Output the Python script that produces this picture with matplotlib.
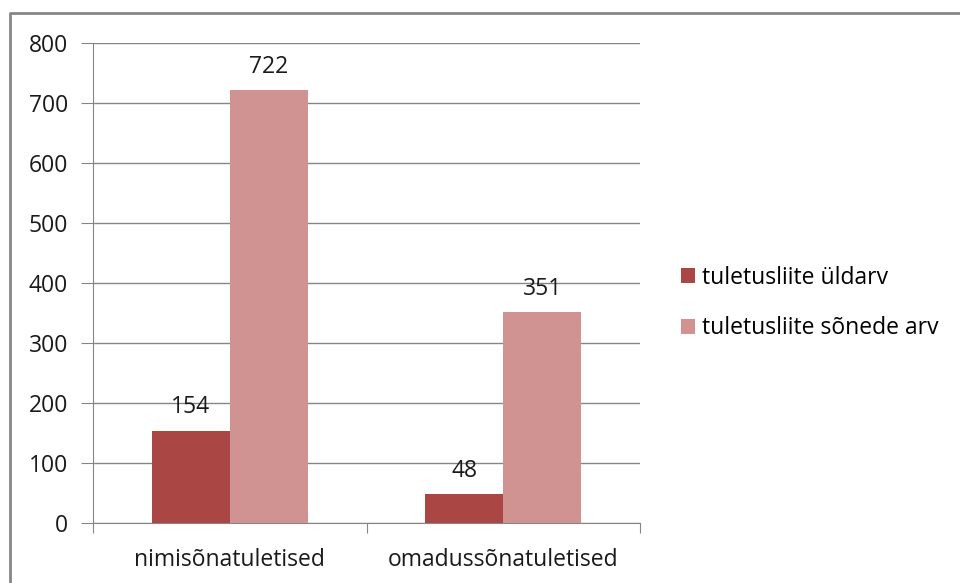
import matplotlib.pyplot as plt
import numpy as np
from matplotlib.lines import Line2D

categories = ["nimisõnatuletised", "omadussõnatuletised"]
series_names = ["tuletusliite üldarv", "tuletusliite sõnede arv"]
uldarv = [154, 48]
sonede_arv = [722, 351]
yticks = [0, 100, 200, 300, 400, 500, 600, 700, 800]

colors = ["#AA4643", "#D19392"]
grid_c = "#868686"
txt_c = "#1a1a1a"

plt.rcParams["font.family"] = ["Open Sans", "DejaVu Sans"]

W, H = 960, 583
fig = plt.figure(figsize=(W / 100, H / 100), dpi=100)

# chart border (only top and left visible, rest is cut off)
fig.lines.append(Line2D([10 / W, 10 / W, 1.01], [-0.01, 1 - 13 / H, 1 - 13 / H],
                        transform=fig.transFigure, color="#868686", linewidth=2))

ax = fig.add_axes([93 / W, 1 - 523 / H, (640 - 93) / W, (523 - 43) / H])

x = np.arange(len(categories))
bw = 0.285
b1 = ax.bar(x - bw / 2, uldarv, bw, color=colors[0], label=series_names[0], zorder=3)
b2 = ax.bar(x + bw / 2, sonede_arv, bw, color=colors[1], label=series_names[1], zorder=3)

fs = 16.5
for bars in (b1, b2):
    for r in bars:
        ax.annotate(str(int(r.get_height())), (r.get_x() + r.get_width() / 2, r.get_height()),
                    xytext=(0, 8), textcoords="offset points", ha="center", va="bottom",
                    fontsize=fs, color=txt_c)

ax.set_xlim(-0.5, 1.5)
ax.set_ylim(0, 800)
ax.set_yticks(yticks)
ax.set_xticks([-0.5, 0.5, 1.5], minor=False)
ax.set_xticklabels([])
ax.set_xticks(x, minor=True)
ax.set_xticklabels(categories, minor=True, fontsize=fs, color=txt_c)
ax.tick_params(axis="x", which="minor", length=0, pad=18)
ax.tick_params(axis="x", which="major", length=7, color=grid_c, direction="out")
ax.tick_params(axis="y", length=9, color=grid_c, labelsize=fs, labelcolor=txt_c, pad=9)
ax.yaxis.grid(True, color=grid_c, linewidth=1, zorder=0)

for s in ["top", "right"]:
    ax.spines[s].set_visible(False)
ax.spines["left"].set_color(grid_c)
ax.spines["bottom"].set_color(grid_c)

fig.legend(handles=[b1, b2], labels=series_names, loc="center left",
           bbox_to_anchor=(660 / W, 1 - 303 / H), frameon=False, fontsize=fs,
           handlelength=0.62, handleheight=0.62, handletextpad=0.3, labelspacing=1.15)

fig.savefig("out.png", dpi=100)
